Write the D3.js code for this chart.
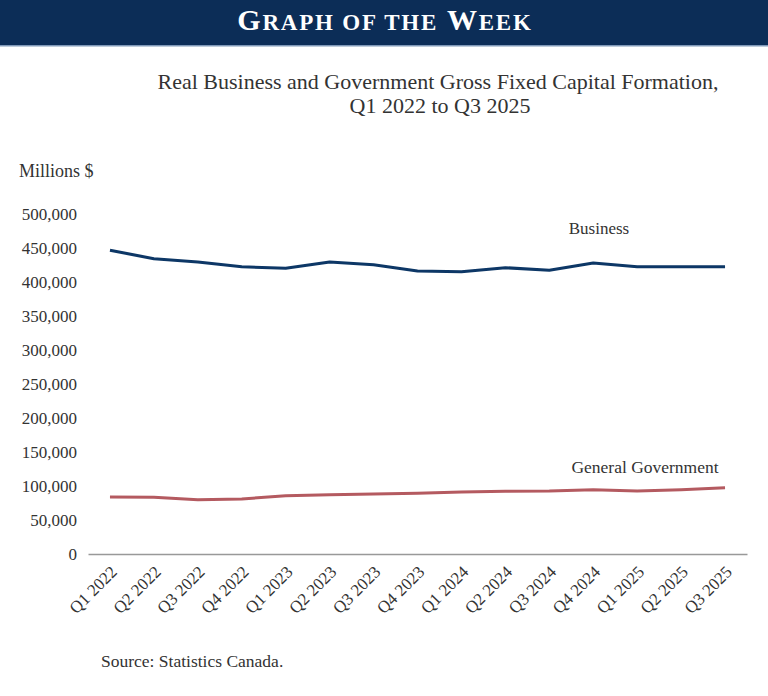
<!DOCTYPE html>
<html>
  <head>
    <meta charset="utf-8">
    <title>graph of the week : capital formation</title>
    <script src="https://d3js.org/d3.v7.min.js"></script>
  </head>
  <style>
    body { margin: 0; background: #fff; }
    text { font-family: "Liberation Serif", "DejaVu Serif", serif; fill: #333; }
  </style>
  <body>

    <script>
      const width = 768;
      const height = 696;

      // quarters on the x axis
      const quarters = [
        "Q1 2022", "Q2 2022", "Q3 2022", "Q4 2022",
        "Q1 2023", "Q2 2023", "Q3 2023", "Q4 2023",
        "Q1 2024", "Q2 2024", "Q3 2024", "Q4 2024",
        "Q1 2025", "Q2 2025", "Q3 2025"
      ];

      // millions of dollars
      const business = [
        446600, 434300, 429400, 422500, 420100, 429400, 425500, 416200,
        415100, 421000, 417200, 428000, 422500, 422500, 422500
      ];
      const government = [
        83800, 83300, 79900, 80900, 85800, 87300, 88200, 89200,
        91200, 92200, 92600, 94600, 92600, 94600, 97500
      ];

      const yTicks = [0, 50000, 100000, 150000, 200000, 250000, 300000, 350000, 400000, 450000, 500000];

      const svg = d3.select("body")
        .append("svg")
          .attr("width", width)
          .attr("height", height);

      // header band
      svg.append("rect")
          .attr("x", 0).attr("y", 0)
          .attr("width", width).attr("height", 46)
          .attr("fill", "#0c2d57");
      svg.append("rect")
          .attr("x", 0).attr("y", 45)
          .attr("width", width).attr("height", 1.5)
          .attr("fill", "#7f98b8");

      // small caps done by hand: capital letters big, the rest smaller
      const header = svg.append("text")
          .attr("x", 385).attr("y", 30)
          .attr("text-anchor", "middle")
          .style("fill", "#fff")
          .style("font-weight", "bold")
          .style("letter-spacing", "1.8px");
      ["Graph", "of", "the", "Week"].forEach(function(word, i) {
        const first = word[0];
        const isCap = first === first.toUpperCase();
        header.append("tspan")
            .style("font-size", isCap ? "30px" : "23px")
            .text((i > 0 ? " " : "") + first.toUpperCase());
        header.append("tspan")
            .style("font-size", "23px")
            .text(word.slice(1).toUpperCase());
      });

      // title
      svg.append("text")
          .attr("x", 438).attr("y", 89)
          .attr("text-anchor", "middle")
          .style("font-size", "22px")
          .text("Real Business and Government Gross Fixed Capital Formation,");
      svg.append("text")
          .attr("x", 440).attr("y", 113)
          .attr("text-anchor", "middle")
          .style("font-size", "22px")
          .text("Q1 2022 to Q3 2025");

      const xScale = d3.scaleBand()
        .domain(quarters)
        .range([88, 747]);

      const yScale = d3.scaleLinear()
        .domain([0, 500000])
        .range([554, 214]);

      const xPos = function(i) { return xScale(quarters[i]) + xScale.bandwidth() / 2; };

      // y axis: labels only
      const yAxis = d3.axisLeft(yScale)
        .tickValues(yTicks)
        .tickSize(0)
        .tickPadding(0)
        .tickFormat(d3.format(","));

      svg.append("g")
          .classed("y-axis", true)
          .attr("transform", "translate(77,0)")
          .call(yAxis)
          .call(function(g) { g.select(".domain").remove(); })
          .selectAll("text")
            .attr("fill", null)
            .style("font-family", null)
            .style("font-size", "17px");

      svg.append("text")
          .attr("x", 19).attr("y", 177)
          .style("font-size", "18px")
          .text("Millions $");

      // x axis
      const xAxis = d3.axisBottom(xScale).tickSize(0).tickPadding(0);

      const xg = svg.append("g")
          .classed("x-axis", true)
          .attr("transform", "translate(0,554)")
          .call(xAxis);
      xg.select(".domain")
          .attr("stroke", "#999")
          .attr("stroke-width", 1.5);
      xg.selectAll("text")
          .attr("fill", null)
          .style("font-family", null)
          .style("font-size", "17px")
          .attr("text-anchor", "end")
          .attr("dy", null)
          .attr("transform", "translate(8,19) rotate(-45)");

      const line = d3.line()
        .x(function(d, i) { return xPos(i); })
        .y(function(d) { return yScale(d); });

      svg.append("path")
          .datum(business)
          .attr("fill", "none")
          .attr("stroke", "#0d3766")
          .attr("stroke-width", 3)
          .attr("stroke-linejoin", "round")
          .attr("d", line);

      svg.append("path")
          .datum(government)
          .attr("fill", "none")
          .attr("stroke", "#b45a60")
          .attr("stroke-width", 3)
          .attr("stroke-linejoin", "round")
          .attr("d", line);

      // series labels
      svg.append("text")
          .attr("x", 599).attr("y", 234)
          .attr("text-anchor", "middle")
          .style("font-size", "17px")
          .text("Business");
      svg.append("text")
          .attr("x", 645).attr("y", 473)
          .attr("text-anchor", "middle")
          .style("font-size", "17.5px")
          .text("General Government");

      svg.append("text")
          .attr("x", 101).attr("y", 667)
          .style("font-size", "17.5px")
          .text("Source: Statistics Canada.");

    </script>
  </body>
</html>
